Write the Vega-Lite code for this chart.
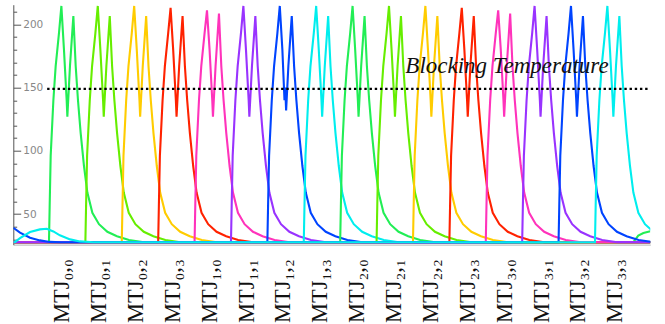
{
  "$schema": "https://vega.github.io/schema/vega-lite/v6.json",
  "width": 637,
  "height": 240,
  "autosize": {"type": "none"},
  "padding": {"left": 13.3, "top": 4.7, "right": 14.7, "bottom": 79.3},
  "background": "white",
  "config": {"view": {"stroke": null}},
  "encoding": {
    "x": {
      "field": "t", "type": "quantitative",
      "scale": {"domain": [0, 175], "nice": false, "zero": false},
      "axis": {
        "title": null, "grid": false, "ticks": false,
        "values": [13.3, 23.43, 33.56, 43.69, 53.82, 63.95, 74.08, 84.21, 94.34, 104.47, 114.6, 124.73, 134.86, 144.99, 155.12, 165.25],
        "labelExpr": "['MTJ₀,₀','MTJ₀,₁','MTJ₀,₂','MTJ₀,₃','MTJ₁,₀','MTJ₁,₁','MTJ₁,₂','MTJ₁,₃','MTJ₂,₀','MTJ₂,₁','MTJ₂,₂','MTJ₂,₃','MTJ₃,₀','MTJ₃,₁','MTJ₃,₂','MTJ₃,₃'][indexof([13.3, 23.43, 33.56, 43.69, 53.82, 63.95, 74.08, 84.21, 94.34, 104.47, 114.6, 124.73, 134.86, 144.99, 155.12, 165.25], datum.value)]",
        "labelAngle": -90, "labelAlign": "right", "labelBaseline": "middle",
        "labelFont": "Liberation Serif", "labelFontSize": 22.5, "labelColor": "#111",
        "labelPadding": 14, "labelOverlap": false, "labelFlush": false, "labelBound": false,
        "domainColor": "#c4c4c4", "domainWidth": 1.2
      }
    },
    "y": {
      "field": "T", "type": "quantitative",
      "scale": {"domain": [25.8, 215.5], "nice": false, "zero": false},
      "axis": {
        "title": null, "grid": false,
        "values": [30, 40, 50, 60, 70, 80, 90, 100, 110, 120, 130, 140, 150, 160, 170, 180, 190, 200, 210],
        "labelExpr": "datum.value % 50 == 0 ? datum.label : ''",
        "tickSize": {"condition": {"test": "datum.value % 50 == 0", "value": -7.4}, "value": -3.4},
        "labelPadding": -2,
        "labelAlign": "left", "labelBaseline": "middle",
        "labelFont": "DejaVu Sans", "labelFontSize": 10.5, "labelColor": "#888",
        "tickColor": "#555", "domainColor": "#555", "labelOverlap": false, "labelFlush": false, "labelBound": false
      }
    }
  },
  "layer": [
    {
      "data": {"values": [
        {"id":"0,0","t":0,"T":27.7},{"id":"0,0","t":9.8,"T":27.7},{"id":"0,0","t":9.99,"T":56},{"id":"0,0","t":10.27,"T":96},{"id":"0,0","t":11.01,"T":140},{"id":"0,0","t":11.64,"T":167},{"id":"0,0","t":12.55,"T":193},{"id":"0,0","t":13.21,"T":214.5},{"id":"0,0","t":13.92,"T":180},{"id":"0,0","t":14.66,"T":140},{"id":"0,0","t":14.85,"T":127},{"id":"0,0","t":15.57,"T":167},{"id":"0,0","t":16.5,"T":206.5},{"id":"0,0","t":17.14,"T":167},{"id":"0,0","t":17.77,"T":140},{"id":"0,0","t":18.51,"T":114},{"id":"0,0","t":19.42,"T":88},{"id":"0,0","t":20.35,"T":67},{"id":"0,0","t":21.72,"T":51},{"id":"0,0","t":23.54,"T":42},{"id":"0,0","t":25.84,"T":36},{"id":"0,0","t":28.48,"T":32.5},{"id":"0,0","t":31.78,"T":29.5},{"id":"0,0","t":35.9,"T":27.8},{"id":"0,0","t":170.3,"T":27.7},{"id":"0,0","t":171.7,"T":33},{"id":"0,0","t":173.1,"T":35},{"id":"0,0","t":175,"T":36.5},

        {"id":"0,1","t":0,"T":27.7},{"id":"0,1","t":19.8,"T":27.7},{"id":"0,1","t":19.99,"T":56},{"id":"0,1","t":20.27,"T":96},{"id":"0,1","t":21.01,"T":140},{"id":"0,1","t":21.64,"T":167},{"id":"0,1","t":22.55,"T":193},{"id":"0,1","t":23.21,"T":214.5},{"id":"0,1","t":23.92,"T":180},{"id":"0,1","t":24.66,"T":140},{"id":"0,1","t":24.85,"T":127},{"id":"0,1","t":25.57,"T":167},{"id":"0,1","t":26.5,"T":206.5},{"id":"0,1","t":27.14,"T":167},{"id":"0,1","t":27.77,"T":140},{"id":"0,1","t":28.51,"T":114},{"id":"0,1","t":29.42,"T":88},{"id":"0,1","t":30.35,"T":67},{"id":"0,1","t":31.72,"T":51},{"id":"0,1","t":33.54,"T":42},{"id":"0,1","t":35.84,"T":36},{"id":"0,1","t":38.48,"T":32.5},{"id":"0,1","t":41.78,"T":29.5},{"id":"0,1","t":45.9,"T":27.8},{"id":"0,1","t":175,"T":27.7},

        {"id":"0,2","t":0,"T":27.7},{"id":"0,2","t":29.8,"T":27.7},{"id":"0,2","t":29.99,"T":56},{"id":"0,2","t":30.27,"T":96},{"id":"0,2","t":31.01,"T":140},{"id":"0,2","t":31.64,"T":167},{"id":"0,2","t":32.55,"T":193},{"id":"0,2","t":33.21,"T":214.5},{"id":"0,2","t":33.92,"T":180},{"id":"0,2","t":34.66,"T":140},{"id":"0,2","t":34.85,"T":127},{"id":"0,2","t":35.57,"T":167},{"id":"0,2","t":36.5,"T":206.5},{"id":"0,2","t":37.14,"T":167},{"id":"0,2","t":37.77,"T":140},{"id":"0,2","t":38.51,"T":114},{"id":"0,2","t":39.42,"T":88},{"id":"0,2","t":40.35,"T":67},{"id":"0,2","t":41.72,"T":51},{"id":"0,2","t":43.54,"T":42},{"id":"0,2","t":45.84,"T":36},{"id":"0,2","t":48.48,"T":32.5},{"id":"0,2","t":51.78,"T":29.5},{"id":"0,2","t":55.9,"T":27.8},{"id":"0,2","t":175,"T":27.7},

        {"id":"0,3","t":0,"T":27.7},{"id":"0,3","t":39.8,"T":27.7},{"id":"0,3","t":39.99,"T":56},{"id":"0,3","t":40.27,"T":96},{"id":"0,3","t":41.01,"T":140},{"id":"0,3","t":41.64,"T":167},{"id":"0,3","t":42.55,"T":193},{"id":"0,3","t":43.21,"T":213},{"id":"0,3","t":43.92,"T":180},{"id":"0,3","t":44.66,"T":140},{"id":"0,3","t":44.85,"T":127},{"id":"0,3","t":45.57,"T":167},{"id":"0,3","t":46.5,"T":206.5},{"id":"0,3","t":47.14,"T":167},{"id":"0,3","t":47.77,"T":140},{"id":"0,3","t":48.51,"T":114},{"id":"0,3","t":49.42,"T":88},{"id":"0,3","t":50.35,"T":67},{"id":"0,3","t":51.72,"T":51},{"id":"0,3","t":53.54,"T":42},{"id":"0,3","t":55.84,"T":36},{"id":"0,3","t":58.48,"T":32.5},{"id":"0,3","t":61.78,"T":29.5},{"id":"0,3","t":65.9,"T":27.8},{"id":"0,3","t":175,"T":27.7},

        {"id":"1,0","t":0,"T":27.7},{"id":"1,0","t":49.8,"T":27.7},{"id":"1,0","t":49.99,"T":56},{"id":"1,0","t":50.27,"T":96},{"id":"1,0","t":51.01,"T":140},{"id":"1,0","t":51.64,"T":167},{"id":"1,0","t":52.55,"T":193},{"id":"1,0","t":53.21,"T":211},{"id":"1,0","t":53.92,"T":180},{"id":"1,0","t":54.66,"T":140},{"id":"1,0","t":54.85,"T":127},{"id":"1,0","t":55.57,"T":167},{"id":"1,0","t":56.5,"T":208.5},{"id":"1,0","t":57.14,"T":167},{"id":"1,0","t":57.77,"T":140},{"id":"1,0","t":58.51,"T":114},{"id":"1,0","t":59.42,"T":88},{"id":"1,0","t":60.35,"T":67},{"id":"1,0","t":61.72,"T":51},{"id":"1,0","t":63.54,"T":42},{"id":"1,0","t":65.84,"T":36},{"id":"1,0","t":68.48,"T":32.5},{"id":"1,0","t":71.78,"T":29.5},{"id":"1,0","t":75.9,"T":27.8},{"id":"1,0","t":175,"T":27.7},

        {"id":"1,1","t":0,"T":27.7},{"id":"1,1","t":59.8,"T":27.7},{"id":"1,1","t":59.99,"T":56},{"id":"1,1","t":60.27,"T":96},{"id":"1,1","t":61.01,"T":140},{"id":"1,1","t":61.64,"T":167},{"id":"1,1","t":62.55,"T":193},{"id":"1,1","t":63.21,"T":214.5},{"id":"1,1","t":63.92,"T":180},{"id":"1,1","t":64.66,"T":140},{"id":"1,1","t":64.85,"T":127},{"id":"1,1","t":65.57,"T":167},{"id":"1,1","t":66.5,"T":206.5},{"id":"1,1","t":67.14,"T":167},{"id":"1,1","t":67.77,"T":140},{"id":"1,1","t":68.51,"T":114},{"id":"1,1","t":69.42,"T":88},{"id":"1,1","t":70.35,"T":67},{"id":"1,1","t":71.72,"T":51},{"id":"1,1","t":73.54,"T":42},{"id":"1,1","t":75.84,"T":36},{"id":"1,1","t":78.48,"T":32.5},{"id":"1,1","t":81.78,"T":29.5},{"id":"1,1","t":85.9,"T":27.8},{"id":"1,1","t":175,"T":27.7},

        {"id":"1,2","t":0,"T":27.7},{"id":"1,2","t":69.8,"T":27.7},{"id":"1,2","t":69.99,"T":56},{"id":"1,2","t":70.27,"T":96},{"id":"1,2","t":71.01,"T":140},{"id":"1,2","t":71.64,"T":167},{"id":"1,2","t":72.55,"T":193},{"id":"1,2","t":73.21,"T":214.5},{"id":"1,2","t":73.92,"T":180},{"id":"1,2","t":74.5,"T":140},{"id":"1,2","t":74.7,"T":150},{"id":"1,2","t":74.95,"T":132},{"id":"1,2","t":75.57,"T":167},{"id":"1,2","t":76.5,"T":206.5},{"id":"1,2","t":77.14,"T":167},{"id":"1,2","t":77.77,"T":140},{"id":"1,2","t":78.51,"T":114},{"id":"1,2","t":79.42,"T":88},{"id":"1,2","t":80.35,"T":67},{"id":"1,2","t":81.72,"T":51},{"id":"1,2","t":83.54,"T":42},{"id":"1,2","t":85.84,"T":36},{"id":"1,2","t":88.48,"T":32.5},{"id":"1,2","t":91.78,"T":29.5},{"id":"1,2","t":95.9,"T":27.8},{"id":"1,2","t":175,"T":27.7},

        {"id":"1,3","t":0,"T":27.7},{"id":"1,3","t":79.8,"T":27.7},{"id":"1,3","t":79.99,"T":56},{"id":"1,3","t":80.27,"T":96},{"id":"1,3","t":81.01,"T":140},{"id":"1,3","t":81.64,"T":167},{"id":"1,3","t":82.55,"T":193},{"id":"1,3","t":83.21,"T":214.5},{"id":"1,3","t":83.92,"T":180},{"id":"1,3","t":84.66,"T":140},{"id":"1,3","t":84.85,"T":127},{"id":"1,3","t":85.57,"T":167},{"id":"1,3","t":86.5,"T":206.5},{"id":"1,3","t":87.14,"T":167},{"id":"1,3","t":87.77,"T":140},{"id":"1,3","t":88.51,"T":114},{"id":"1,3","t":89.42,"T":88},{"id":"1,3","t":90.35,"T":67},{"id":"1,3","t":91.72,"T":51},{"id":"1,3","t":93.54,"T":42},{"id":"1,3","t":95.84,"T":36},{"id":"1,3","t":98.48,"T":32.5},{"id":"1,3","t":101.78,"T":29.5},{"id":"1,3","t":105.9,"T":27.8},{"id":"1,3","t":175,"T":27.7},

        {"id":"2,0","t":0,"T":27.7},{"id":"2,0","t":89.8,"T":27.7},{"id":"2,0","t":89.99,"T":56},{"id":"2,0","t":90.27,"T":96},{"id":"2,0","t":91.01,"T":140},{"id":"2,0","t":91.64,"T":167},{"id":"2,0","t":92.55,"T":193},{"id":"2,0","t":93.21,"T":214.5},{"id":"2,0","t":93.92,"T":180},{"id":"2,0","t":94.66,"T":140},{"id":"2,0","t":94.85,"T":127},{"id":"2,0","t":95.57,"T":167},{"id":"2,0","t":96.5,"T":206.5},{"id":"2,0","t":97.14,"T":167},{"id":"2,0","t":97.77,"T":140},{"id":"2,0","t":98.51,"T":114},{"id":"2,0","t":99.42,"T":88},{"id":"2,0","t":100.35,"T":67},{"id":"2,0","t":101.72,"T":51},{"id":"2,0","t":103.54,"T":42},{"id":"2,0","t":105.84,"T":36},{"id":"2,0","t":108.48,"T":32.5},{"id":"2,0","t":111.78,"T":29.5},{"id":"2,0","t":115.9,"T":27.8},{"id":"2,0","t":175,"T":27.7},

        {"id":"2,1","t":0,"T":27.7},{"id":"2,1","t":99.8,"T":27.7},{"id":"2,1","t":99.99,"T":56},{"id":"2,1","t":100.27,"T":96},{"id":"2,1","t":101.01,"T":140},{"id":"2,1","t":101.64,"T":167},{"id":"2,1","t":102.55,"T":193},{"id":"2,1","t":103.21,"T":214.5},{"id":"2,1","t":103.92,"T":180},{"id":"2,1","t":104.66,"T":140},{"id":"2,1","t":104.85,"T":127},{"id":"2,1","t":105.57,"T":167},{"id":"2,1","t":106.5,"T":206.5},{"id":"2,1","t":107.14,"T":167},{"id":"2,1","t":107.77,"T":140},{"id":"2,1","t":108.51,"T":114},{"id":"2,1","t":109.42,"T":88},{"id":"2,1","t":110.35,"T":67},{"id":"2,1","t":111.72,"T":51},{"id":"2,1","t":113.54,"T":42},{"id":"2,1","t":115.84,"T":36},{"id":"2,1","t":118.48,"T":32.5},{"id":"2,1","t":121.78,"T":29.5},{"id":"2,1","t":125.9,"T":27.8},{"id":"2,1","t":175,"T":27.7},

        {"id":"2,2","t":0,"T":27.7},{"id":"2,2","t":109.8,"T":27.7},{"id":"2,2","t":109.99,"T":56},{"id":"2,2","t":110.27,"T":96},{"id":"2,2","t":111.01,"T":140},{"id":"2,2","t":111.64,"T":167},{"id":"2,2","t":112.55,"T":193},{"id":"2,2","t":113.21,"T":214.5},{"id":"2,2","t":113.92,"T":180},{"id":"2,2","t":114.66,"T":140},{"id":"2,2","t":114.85,"T":127},{"id":"2,2","t":115.57,"T":167},{"id":"2,2","t":116.5,"T":206.5},{"id":"2,2","t":117.14,"T":167},{"id":"2,2","t":117.77,"T":140},{"id":"2,2","t":118.51,"T":114},{"id":"2,2","t":119.42,"T":88},{"id":"2,2","t":120.35,"T":67},{"id":"2,2","t":121.72,"T":51},{"id":"2,2","t":123.54,"T":42},{"id":"2,2","t":125.84,"T":36},{"id":"2,2","t":128.48,"T":32.5},{"id":"2,2","t":131.78,"T":29.5},{"id":"2,2","t":135.9,"T":27.8},{"id":"2,2","t":175,"T":27.7},

        {"id":"2,3","t":0,"T":27.7},{"id":"2,3","t":119.8,"T":27.7},{"id":"2,3","t":119.99,"T":56},{"id":"2,3","t":120.27,"T":96},{"id":"2,3","t":121.01,"T":140},{"id":"2,3","t":121.64,"T":167},{"id":"2,3","t":122.55,"T":193},{"id":"2,3","t":123.21,"T":213},{"id":"2,3","t":123.92,"T":180},{"id":"2,3","t":124.66,"T":140},{"id":"2,3","t":124.85,"T":127},{"id":"2,3","t":125.57,"T":167},{"id":"2,3","t":126.5,"T":206.5},{"id":"2,3","t":127.14,"T":167},{"id":"2,3","t":127.77,"T":140},{"id":"2,3","t":128.51,"T":114},{"id":"2,3","t":129.42,"T":88},{"id":"2,3","t":130.35,"T":67},{"id":"2,3","t":131.72,"T":51},{"id":"2,3","t":133.54,"T":42},{"id":"2,3","t":135.84,"T":36},{"id":"2,3","t":138.48,"T":32.5},{"id":"2,3","t":141.78,"T":29.5},{"id":"2,3","t":145.9,"T":27.8},{"id":"2,3","t":175,"T":27.7},

        {"id":"3,0","t":0,"T":27.7},{"id":"3,0","t":129.8,"T":27.7},{"id":"3,0","t":129.99,"T":56},{"id":"3,0","t":130.27,"T":96},{"id":"3,0","t":131.01,"T":140},{"id":"3,0","t":131.64,"T":167},{"id":"3,0","t":132.55,"T":193},{"id":"3,0","t":133.21,"T":211},{"id":"3,0","t":133.92,"T":180},{"id":"3,0","t":134.66,"T":140},{"id":"3,0","t":134.85,"T":127},{"id":"3,0","t":135.57,"T":167},{"id":"3,0","t":136.5,"T":208.5},{"id":"3,0","t":137.14,"T":167},{"id":"3,0","t":137.77,"T":140},{"id":"3,0","t":138.51,"T":114},{"id":"3,0","t":139.42,"T":88},{"id":"3,0","t":140.35,"T":67},{"id":"3,0","t":141.72,"T":51},{"id":"3,0","t":143.54,"T":42},{"id":"3,0","t":145.84,"T":36},{"id":"3,0","t":148.48,"T":32.5},{"id":"3,0","t":151.78,"T":29.5},{"id":"3,0","t":155.9,"T":27.8},{"id":"3,0","t":175,"T":27.7},

        {"id":"3,1","t":0,"T":27.7},{"id":"3,1","t":139.8,"T":27.7},{"id":"3,1","t":139.99,"T":56},{"id":"3,1","t":140.27,"T":96},{"id":"3,1","t":141.01,"T":140},{"id":"3,1","t":141.64,"T":167},{"id":"3,1","t":142.55,"T":193},{"id":"3,1","t":143.21,"T":214.5},{"id":"3,1","t":143.92,"T":180},{"id":"3,1","t":144.66,"T":140},{"id":"3,1","t":144.85,"T":127},{"id":"3,1","t":145.57,"T":167},{"id":"3,1","t":146.5,"T":206.5},{"id":"3,1","t":147.14,"T":167},{"id":"3,1","t":147.77,"T":140},{"id":"3,1","t":148.51,"T":114},{"id":"3,1","t":149.42,"T":88},{"id":"3,1","t":150.35,"T":67},{"id":"3,1","t":151.72,"T":51},{"id":"3,1","t":153.54,"T":42},{"id":"3,1","t":155.84,"T":36},{"id":"3,1","t":158.48,"T":32.5},{"id":"3,1","t":161.78,"T":29.5},{"id":"3,1","t":165.9,"T":27.8},{"id":"3,1","t":175,"T":27.7},

        {"id":"3,2","t":0,"T":39.2},{"id":"3,2","t":1.84,"T":35.3},{"id":"3,2","t":4.6,"T":31.3},{"id":"3,2","t":7.3,"T":29.2},{"id":"3,2","t":10,"T":28},{"id":"3,2","t":13,"T":27.7},{"id":"3,2","t":149.8,"T":27.7},{"id":"3,2","t":149.99,"T":56},{"id":"3,2","t":150.27,"T":96},{"id":"3,2","t":151.01,"T":140},{"id":"3,2","t":151.64,"T":167},{"id":"3,2","t":152.55,"T":193},{"id":"3,2","t":153.21,"T":214.5},{"id":"3,2","t":153.92,"T":180},{"id":"3,2","t":154.66,"T":140},{"id":"3,2","t":154.85,"T":127},{"id":"3,2","t":155.57,"T":167},{"id":"3,2","t":156.5,"T":206.5},{"id":"3,2","t":157.14,"T":167},{"id":"3,2","t":157.77,"T":140},{"id":"3,2","t":158.51,"T":114},{"id":"3,2","t":159.42,"T":88},{"id":"3,2","t":160.35,"T":67},{"id":"3,2","t":161.72,"T":51},{"id":"3,2","t":163.54,"T":42},{"id":"3,2","t":165.84,"T":36},{"id":"3,2","t":168.48,"T":32.5},{"id":"3,2","t":171.78,"T":29.5},{"id":"3,2","t":175.9,"T":27.8},

        {"id":"3,3","t":0,"T":27.7},{"id":"3,3","t":0.5,"T":28},{"id":"3,3","t":1.84,"T":31},{"id":"3,3","t":4.6,"T":35.8},{"id":"3,3","t":7.3,"T":37.9},{"id":"3,3","t":9.2,"T":38.4},{"id":"3,3","t":11,"T":36.3},{"id":"3,3","t":12.8,"T":33.2},{"id":"3,3","t":15.6,"T":30},{"id":"3,3","t":18.3,"T":28.4},{"id":"3,3","t":22,"T":27.7},{"id":"3,3","t":159.8,"T":27.7},{"id":"3,3","t":159.99,"T":56},{"id":"3,3","t":160.27,"T":96},{"id":"3,3","t":161.01,"T":140},{"id":"3,3","t":161.64,"T":167},{"id":"3,3","t":162.55,"T":193},{"id":"3,3","t":163.21,"T":214.5},{"id":"3,3","t":163.92,"T":180},{"id":"3,3","t":164.66,"T":140},{"id":"3,3","t":164.85,"T":127},{"id":"3,3","t":165.57,"T":167},{"id":"3,3","t":166.5,"T":206.5},{"id":"3,3","t":167.14,"T":167},{"id":"3,3","t":167.77,"T":140},{"id":"3,3","t":168.51,"T":114},{"id":"3,3","t":169.42,"T":88},{"id":"3,3","t":170.35,"T":67},{"id":"3,3","t":171.72,"T":51},{"id":"3,3","t":173.54,"T":42},{"id":"3,3","t":175.84,"T":36},{"id":"3,3","t":178.48,"T":32.5}
      ]},
      "mark": {"type": "line", "clip": true, "strokeWidth": 2.1},
      "encoding": {
        "color": {
          "field": "id", "type": "nominal", "legend": null,
          "scale": {
            "domain": ["0,0","0,1","0,2","0,3","1,0","1,1","1,2","1,3","2,0","2,1","2,2","2,3","3,0","3,1","3,2","3,3"],
            "range": ["#22ee55","#66ee00","#ffcc00","#ff2200","#ff33bb","#9933ff","#0044ff","#00eeee","#22ee55","#66ee00","#ffcc00","#ff2200","#ff33bb","#9933ff","#0044ff","#00eeee"]
          }
        }
      }
    },
    {
      "data": {"values": [{"t": 9.3, "T": 149}, {"t": 175, "T": 149}]},
      "mark": {"type": "line", "color": "#000", "strokeDash": [2.4, 2.8], "strokeWidth": 2.3},
      "encoding": {}
    },
    {
      "data": {"values": [{"t": 107.7, "T": 161.2, "label": "Blocking Temperature"}]},
      "mark": {"type": "text", "align": "left", "baseline": "alphabetic", "font": "Liberation Serif", "fontStyle": "italic", "fontSize": 23, "color": "#111"},
      "encoding": {
        "text": {"field": "label"}
      }
    }
  ]
}
